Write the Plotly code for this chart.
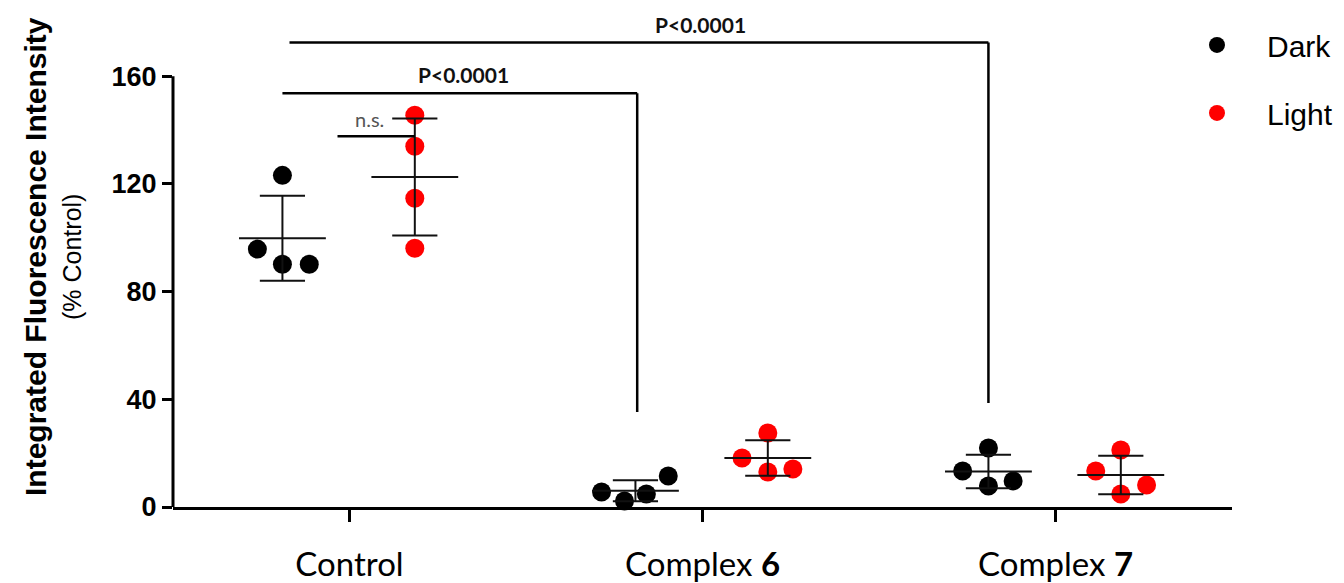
import numpy as np
import plotly.graph_objects as go

# ---------------- data ----------------
categories = ["Control", "Complex 6", "Complex 7"]
tick_labels = ["Control", "Complex <b>6</b>", "Complex <b>7</b>"]
y_ticks = [0, 40, 80, 120, 160]

dark_control = [123.2, 95.8, 90.2, 90.2]
dark_complex6 = [5.6, 2.2, 4.8, 11.5]
dark_complex7 = [21.9, 13.4, 7.8, 9.7]

light_control = [145.5, 134.0, 114.7, 96.1]
light_complex6 = [27.5, 18.2, 13.0, 14.1]
light_complex7 = [21.2, 13.4, 4.8, 8.2]

dark_values = [dark_control, dark_complex6, dark_complex7]
light_values = [light_control, light_complex6, light_complex7]

sig_labels = ["P<0.0001", "P<0.0001", "n.s."]

# ---------------- layout helpers (positions / styles) ----------------
GROUP_OFF = {"Dark": -0.19, "Light": 0.185}
JITTER = {
    "Dark": [[0.0, -0.071, 0.0, 0.076], [-0.096, -0.031, 0.031, 0.093], [0.0, -0.073, 0.0, 0.07]],
    "Light": [[0.0, 0.0, 0.0, 0.0], [0.0, -0.073, 0.0, 0.071], [0.0, -0.071, 0.0, 0.073]],
}
MEAN_HALF = 0.123
CAP_HALF = 0.064
MARKER_SIZE = 19
COLORS = {"Dark": "#000000", "Light": "#ff0000"}
ARIAL = "Liberation Sans, Arial"

fig = go.Figure()

series = {"Dark": dark_values, "Light": light_values}

# points
for name, groups in series.items():
    xs, ys = [], []
    for ci, vals in enumerate(groups):
        for j, v in enumerate(vals):
            xs.append(ci + GROUP_OFF[name] + JITTER[name][ci][j])
            ys.append(v)
    fig.add_trace(go.Scatter(
        x=xs, y=ys, mode="markers", name=name,
        legendgroup=name,
        marker=dict(color=COLORS[name], size=MARKER_SIZE, line=dict(width=0)),
        cliponaxis=False,
    ))

# mean +/- SD lines
for name, groups in series.items():
    lx, ly = [], []
    for ci, vals in enumerate(groups):
        m = float(np.mean(vals))
        s = float(np.std(vals, ddof=1))
        c = ci + GROUP_OFF[name]
        lx += [c - MEAN_HALF, c + MEAN_HALF, None]
        ly += [m, m, None]
        lx += [c, c, None]
        ly += [m - s, m + s, None]
        lx += [c - CAP_HALF, c + CAP_HALF, None]
        ly += [m + s, m + s, None]
        lx += [c - CAP_HALF, c + CAP_HALF, None]
        ly += [m - s, m - s, None]
    fig.add_trace(go.Scatter(
        x=lx, y=ly, mode="lines", showlegend=False, hoverinfo="skip",
        line=dict(color="#111111", width=2),
    ))

# significance brackets
line_style = dict(color="#000000", width=2.5)
# outer: Control dark -> Complex 7 dark
fig.add_shape(type="line", xref="x", yref="y", x0=-0.17, x1=1.81, y0=172.6, y1=172.6, line=line_style)
fig.add_shape(type="line", xref="x", yref="y", x0=1.81, x1=1.81, y0=172.6, y1=38.6, line=line_style)
# inner: Control dark -> Complex 6 dark
fig.add_shape(type="line", xref="x", yref="y", x0=-0.19, x1=0.815, y0=153.7, y1=153.7, line=line_style)
fig.add_shape(type="line", xref="x", yref="y", x0=0.815, x1=0.815, y0=153.7, y1=35.3, line=line_style)
# n.s.
fig.add_shape(type="line", xref="x", yref="y", x0=-0.034, x1=0.185, y0=137.7, y1=137.7, line=line_style)

fig.add_annotation(x=0.995, y=179.3, xref="x", yref="y", text="<b>" + sig_labels[0] + "</b>",
                   showarrow=False, font=dict(family="Lato", size=21, color="#111111"))
fig.add_annotation(x=0.323, y=160.7, xref="x", yref="y", text="<b>" + sig_labels[1] + "</b>",
                   showarrow=False, font=dict(family="Lato", size=21, color="#111111"))
fig.add_annotation(x=0.057, y=144.3, xref="x", yref="y", text=sig_labels[2],
                   showarrow=False, font=dict(family="Lato", size=20, color="#555555"))

# y axis line (only up to 160)
fig.add_shape(type="line", xref="paper", yref="y", x0=0, x1=0, y0=0, y1=160,
              line=dict(color="#000000", width=3))

# y title
fig.add_annotation(xref="paper", yref="paper", x=0, y=0.502, xshift=-138,
                   text="<b>Integrated Fluorescence Intensity</b>", textangle=-90,
                   showarrow=False, xanchor="center", yanchor="middle",
                   font=dict(family=ARIAL, size=30, color="#000000"))
fig.add_annotation(xref="paper", yref="paper", x=0, y=0.502, xshift=-101,
                   text="(% Control)", textangle=-90,
                   showarrow=False, xanchor="center", yanchor="middle",
                   font=dict(family=ARIAL, size=25, color="#000000"))

fig.update_layout(
    width=1344, height=583,
    margin=dict(l=173, r=112, t=8.6, b=76, autoexpand=False),
    plot_bgcolor="white", paper_bgcolor="white",
    showlegend=True,
    legend=dict(
        x=0.9386, y=0.980, xanchor="left", yanchor="top",
        font=dict(family=ARIAL, size=30, color="#000000"),
        tracegroupgap=26, itemwidth=90, bgcolor="rgba(0,0,0,0)",
        traceorder="grouped",
    ),
    xaxis=dict(
        range=[-0.5, 2.5], tickvals=[0, 1, 2], ticktext=tick_labels,
        showline=True, linecolor="#000000", linewidth=3,
        ticks="outside", ticklen=12, tickwidth=3, tickcolor="#000000",
        showgrid=False, zeroline=False,
        tickfont=dict(family="Lato", size=33, color="#000000"),
        ticklabelstandoff=14,
    ),
    yaxis=dict(
        range=[0, 185], tickvals=y_ticks,
        showline=False, ticks="outside", ticklen=10, tickwidth=2.5, tickcolor="#000000",
        showgrid=False, zeroline=False,
        tickfont=dict(family=ARIAL, size=27, color="#000000", weight="bold"),
        ticklabelstandoff=0,
    ),
)

fig.write_html("out.html")
